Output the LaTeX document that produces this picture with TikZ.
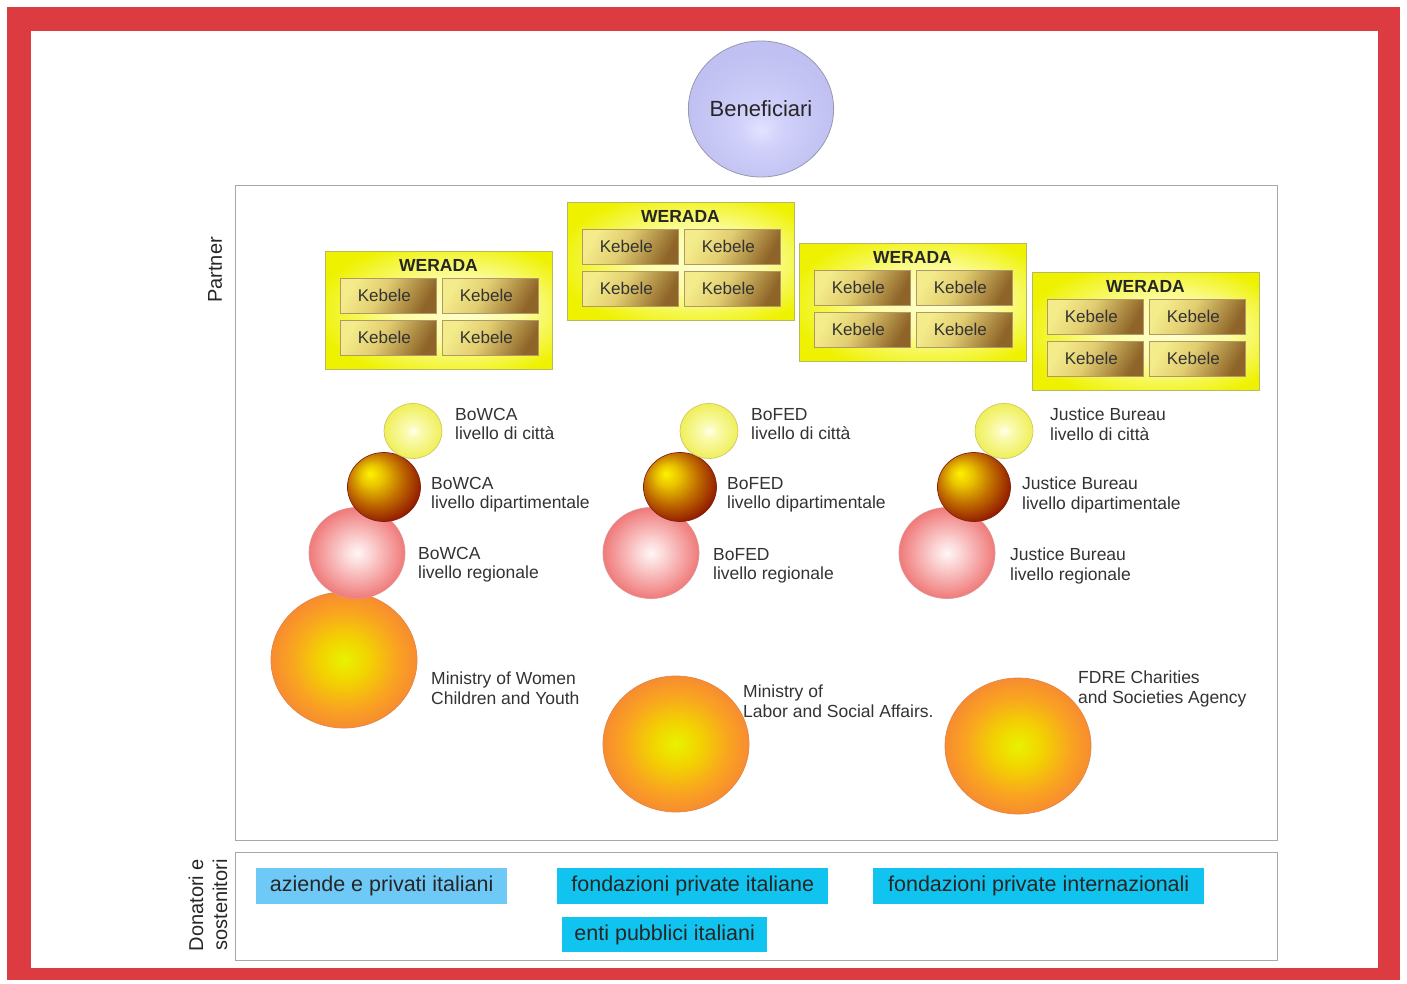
\documentclass[tikz,border=0pt]{standalone}
\usepackage{fontspec}
\setmainfont{Liberation Sans}
\usetikzlibrary{shapes.geometric}

\definecolor{framered}{HTML}{DC3C41}
\definecolor{panelgray}{HTML}{A8A8A8}
\definecolor{txt}{HTML}{333333}
\definecolor{lightsky}{HTML}{6FC9F7}
\definecolor{cyanbox}{HTML}{11C4EF}
\definecolor{weradaedge}{HTML}{B8B860}
\definecolor{kebedge}{HTML}{B09868}

\definecolor{benA}{HTML}{E2E2FF}
\definecolor{benB}{HTML}{D0D0FA}
\definecolor{benC}{HTML}{C0C0F2}
\definecolor{benE}{HTML}{9898B0}
\definecolor{yA}{HTML}{FFFFF2}
\definecolor{yB}{HTML}{FBFBB4}
\definecolor{yC}{HTML}{EFEF5A}
\definecolor{yE}{HTML}{D0C860}
\definecolor{dA}{HTML}{FFF200}
\definecolor{dB}{HTML}{E8C200}
\definecolor{dC}{HTML}{C27000}
\definecolor{dD}{HTML}{921A00}
\definecolor{dF}{HTML}{7E1000}
\definecolor{dE}{HTML}{802010}
\definecolor{pA}{HTML}{FFF6F6}
\definecolor{pB}{HTML}{FCDADA}
\definecolor{pC}{HTML}{F07A7A}
\definecolor{pE}{HTML}{E09090}
\definecolor{oA}{HTML}{E8F200}
\definecolor{oB}{HTML}{F2D400}
\definecolor{oC}{HTML}{F9A420}
\definecolor{oD}{HTML}{F88C30}
\definecolor{oE}{HTML}{E08848}
\definecolor{wA}{HTML}{FFFFD2}
\definecolor{wB}{HTML}{FCFCA0}
\definecolor{wC}{HTML}{EEF200}
\definecolor{kA}{HTML}{F4EC8A}
\definecolor{kB}{HTML}{E2CE72}
\definecolor{kC}{HTML}{8E6428}

\pgfdeclareradialshading{benshade}{\pgfpoint{0bp}{-8bp}}{color(0bp)=(benA); color(8bp)=(benB); color(25bp)=(benC); color(50bp)=(benC)}
\pgfdeclareradialshading{yshade}{\pgfpoint{0bp}{0bp}}{color(0bp)=(yA); color(6bp)=(yB); color(25bp)=(yC); color(50bp)=(yC)}
\pgfdeclareradialshading{dshade}{\pgfpoint{-10bp}{10bp}}{color(0bp)=(dA); color(8bp)=(dB); color(18bp)=(dC); color(30bp)=(dD); color(50bp)=(dF)}
\pgfdeclareradialshading{pshade}{\pgfpoint{0bp}{0bp}}{color(0bp)=(pA); color(6bp)=(pB); color(25bp)=(pC); color(50bp)=(pC)}
\pgfdeclareradialshading{oshade}{\pgfpoint{0bp}{0bp}}{color(0bp)=(oA); color(8bp)=(oB); color(18bp)=(oC); color(25bp)=(oD); color(50bp)=(oD)}
\pgfdeclareradialshading{wshade}{\pgfpoint{6bp}{0bp}}{color(0bp)=(wA); color(14bp)=(wB); color(30bp)=(wC); color(50bp)=(wC)}
\pgfdeclarehorizontalshading{kshade}{100bp}{color(0bp)=(kA); color(25bp)=(kA); color(45bp)=(kB); color(75bp)=(kC); color(100bp)=(kC)}

\tikzset{
  panel/.style={draw=panelgray, line width=1.2pt, fill=white, anchor=north west, inner sep=0},
  werada/.style={draw=weradaedge, line width=0.8pt, shade, shading=wshade, minimum width=227, minimum height=118, anchor=north west, inner sep=0},
  wtitle/.style={inner sep=0, font=\fontsize{17.5}{20}\selectfont\bfseries, text=black!85},
  kebele/.style={draw=kebedge, line width=0.6pt, shade, shading=kshade, shading angle=-30, minimum width=96, minimum height=35, anchor=north west, inner sep=0, font=\fontsize{17}{20}\selectfont, text=txt},
  ball/.style={ellipse, inner sep=0, shade, line width=0.7pt},
  ycity/.style={ball, shading=yshade, draw=yE, minimum width=58, minimum height=55},
  ddept/.style={ball, shading=dshade, draw=dE, minimum width=73, minimum height=69},
  preg/.style={ball, shading=pshade, draw=pE, minimum width=96, minimum height=91},
  omin/.style={ball, shading=oshade, draw=oE, minimum width=146, minimum height=136},
  lbl/.style={anchor=north west, align=left, inner sep=0, font=\fontsize{17.5}{19.5}\selectfont, text=txt},
  donor/.style={anchor=north west, inner sep=0, font=\fontsize{21.5}{24}\selectfont, text=black!85},
  vlabel/.style={rotate=90, inner sep=0, align=center, font=\fontsize{20}{24}\selectfont, text=black!85}
}

\newcommand{\kebtext}{\hspace*{-8pt}Kebele}
\newcommand{\weradabox}[3]{%
  \node[werada] (#1) at (#2,#3) {};
  \node[wtitle] (#1t) at (#2+113.5,#3+14) {WERADA};
  \node[kebele] (#1k1) at (#2+15,#3+27) {\kebtext};
  \node[kebele] (#1k2) at (#2+117,#3+27) {\kebtext};
  \node[kebele] (#1k3) at (#2+15,#3+69) {\kebtext};
  \node[kebele] (#1k4) at (#2+117,#3+69) {\kebtext};
}

\begin{document}
\begin{tikzpicture}[x=1pt,y=-1pt]
\useasboundingbox (0,0) rectangle (1407,984);
\fill[white] (0,0) rectangle (1407,984);
\fill[framered] (7,7) rectangle (1400,980);
\fill[white] (31,31) rectangle (1378,968);

% panels
\node[panel, minimum width=1042, minimum height=655] (partner) at (235,185) {};
\node[panel, minimum width=1042, minimum height=108] (donors) at (235,852) {};

% side labels
\node[vlabel] (ptnlbl) at (215,270) {Partner};
\node[vlabel] (donlbl) at (208,905) {Donatori e\\sostenitori};

% beneficiari
\node[ellipse, inner sep=0, shade, shading=benshade, draw=benE, line width=0.8pt,
      minimum width=144, minimum height=136, font=\fontsize{22}{26}\selectfont, text=black!85] (ben) at (761,109) {Beneficiari};

% WERADA groups
\weradabox{wa}{325}{251}
\weradabox{wb}{567}{202}
\weradabox{wc}{799}{243}
\weradabox{wd}{1032}{272}

% column 1: BoWCA
\node[omin]  (c1o) at (344,660) {};
\node[preg]  (c1p) at (357,553) {};
\node[ddept] (c1d) at (384,487) {};
\node[ycity] (c1y) at (413,431) {};
\node[lbl] (c1yl) at (455,408) {BoWCA\\livello di città};
\node[lbl] (c1dl) at (431,477) {BoWCA\\livello dipartimentale};
\node[lbl] (c1pl) at (418,547) {BoWCA\\livello regionale};
\node[lbl] (c1ol) at (431,672) {Ministry of Women\\Children and Youth};

% column 2: BoFED
\node[omin]  (c2o) at (676,744) {};
\node[preg]  (c2p) at (651,553) {};
\node[ddept] (c2d) at (680,487) {};
\node[ycity] (c2y) at (709,431) {};
\node[lbl] (c2yl) at (751,408) {BoFED\\livello di città};
\node[lbl] (c2dl) at (727,477) {BoFED\\livello dipartimentale};
\node[lbl] (c2pl) at (713,548) {BoFED\\livello regionale};
\node[lbl] (c2ol) at (743,685) {Ministry of\\Labor and Social Affairs.};

% column 3: Justice Bureau
\node[omin]  (c3o) at (1018,746) {};
\node[preg]  (c3p) at (947,553) {};
\node[ddept] (c3d) at (974,487) {};
\node[ycity] (c3y) at (1004,431) {};
\node[lbl] (c3yl) at (1050,408) {Justice Bureau\\livello di città};
\node[lbl] (c3dl) at (1022,477) {Justice Bureau\\livello dipartimentale};
\node[lbl] (c3pl) at (1010,548) {Justice Bureau\\livello regionale};
\node[lbl] (c3ol) at (1078,671) {FDRE Charities\\and Societies Agency};

% donors
\node[donor, fill=lightsky, minimum width=251, minimum height=36] (d1) at (256,868) {aziende e privati italiani};
\node[donor, fill=cyanbox, minimum width=271, minimum height=36] (d2) at (557,868) {fondazioni private italiane};
\node[donor, fill=cyanbox, minimum width=331, minimum height=36] (d3) at (873,868) {fondazioni private internazionali};
\node[donor, fill=cyanbox, minimum width=205, minimum height=35] (d4) at (562,917) {enti pubblici italiani};
\end{tikzpicture}
\end{document}
